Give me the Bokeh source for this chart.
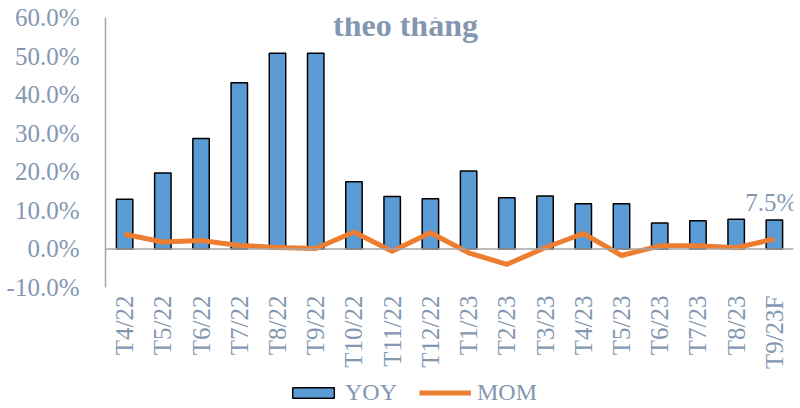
import math
from bokeh.plotting import figure
from bokeh.models import (Range1d, FactorRange, Span, Label, Legend, LegendItem,
                          PrintfTickFormatter, FixedTicker, ColumnDataSource)
from bokeh.core.properties import value
from bokeh.embed import file_html
from bokeh.resources import INLINE

months = ["T4/22", "T5/22", "T6/22", "T7/22", "T8/22", "T9/22", "T10/22", "T11/22",
          "T12/22", "T1/23", "T2/23", "T3/23", "T4/23", "T5/23", "T6/23", "T7/23",
          "T8/23", "T9/23F"]
yoy = [12.9, 19.7, 28.6, 43.1, 50.7, 50.7, 17.4, 13.6, 13.0, 20.2, 13.3, 13.7,
       11.7, 11.7, 6.7, 7.3, 7.7, 7.5]
mom = [3.8, 1.8, 2.2, 0.9, 0.4, 0.1, 4.4, -0.6, 4.2, -1.0, -4.0, 0.3, 4.0, -1.7,
       0.8, 0.8, 0.3, 2.6]
y_ticks = [-10, 0, 10, 20, 30, 40, 50, 60]
title_text = "theo tháng"
last_label = "7.5%"

TXT = "#8497B0"
FONT = "Liberation Serif"

W, H = 800, 408
TOP, LEFT, RIGHT = 17, 105, 7
y_min, y_max = y_ticks[0], y_ticks[-1]
# 270px for the 70-unit value span; the rest of the frame below holds labels/legend
px_per_unit = 270 / (y_max - y_min)
below_px = H - TOP - 270
y_start = y_min - below_px / px_per_unit

src = ColumnDataSource(dict(m=months, yoy=yoy, mom=mom,
                            base=[y_min] * len(months)))

p = figure(x_range=FactorRange(*months), y_range=Range1d(y_start, y_max),
           width=W, height=H, output_backend="svg", toolbar_location=None,
           x_axis_location=None,
           min_border_left=LEFT, min_border_right=RIGHT, min_border_top=TOP,
           min_border_bottom=0)
p.outline_line_color = None
p.xgrid.visible = False
p.ygrid.visible = False
p.background_fill_color = "white"
p.border_fill_color = "white"

ya = p.yaxis[0]
ya.ticker = FixedTicker(ticks=y_ticks)
ya.bounds = (y_min, y_max)
ya.formatter = PrintfTickFormatter(format="%.1f%%")
ya.axis_line_color = "#A6A6A6"
ya.axis_line_width = 1.5
ya.major_tick_line_color = None
ya.minor_tick_line_color = None
ya.major_label_text_font = FONT
ya.major_label_text_font_size = "25px"
ya.major_label_text_color = TXT
ya.major_label_standoff = 20

bars = p.vbar(x="m", top="yoy", bottom=0, width=0.43, source=src,
              fill_color="#5B9BD5", line_color="black", line_width=1.5)
p.add_layout(Span(location=0, dimension="width", line_color="#A6A6A6", line_width=1.5))
line = p.line(x="m", y="mom", source=src, line_color="#ED7D31", line_width=5,
              line_join="round")

# category labels, rotated, hanging below the bottom of the value axis
p.text(x="m", y="base", text="m", source=src, angle=math.pi / 2, y_offset=8,
       text_align="right", text_baseline="middle",
       text_font=value(FONT), text_font_size="25px", text_color=TXT)

p.text(x=[months[-1]], y=[yoy[-1]], text=[last_label], y_offset=-18, x_offset=-3,
       text_align="center", text_baseline="alphabetic",
       text_font=value(FONT), text_font_size="25px", text_color=TXT)

p.add_layout(Label(x=300, y=H - TOP - 7, x_units="screen", y_units="screen",
                   text=title_text, text_align="center", text_baseline="alphabetic",
                   text_font=FONT, text_font_style="bold", text_font_size="32px",
                   text_color=TXT))

legend = Legend(items=[LegendItem(label="YOY", renderers=[bars]),
                       LegendItem(label="MOM", renderers=[line])],
                orientation="horizontal", location=(182, 2),
                glyph_width=52, glyph_height=13, label_standoff=6, spacing=22,
                padding=0, margin=0, border_line_color=None,
                background_fill_alpha=0,
                label_text_font=FONT, label_text_font_size="24px",
                label_text_color=TXT)
p.add_layout(legend)

open("out.html", "w").write(file_html(p, INLINE))
